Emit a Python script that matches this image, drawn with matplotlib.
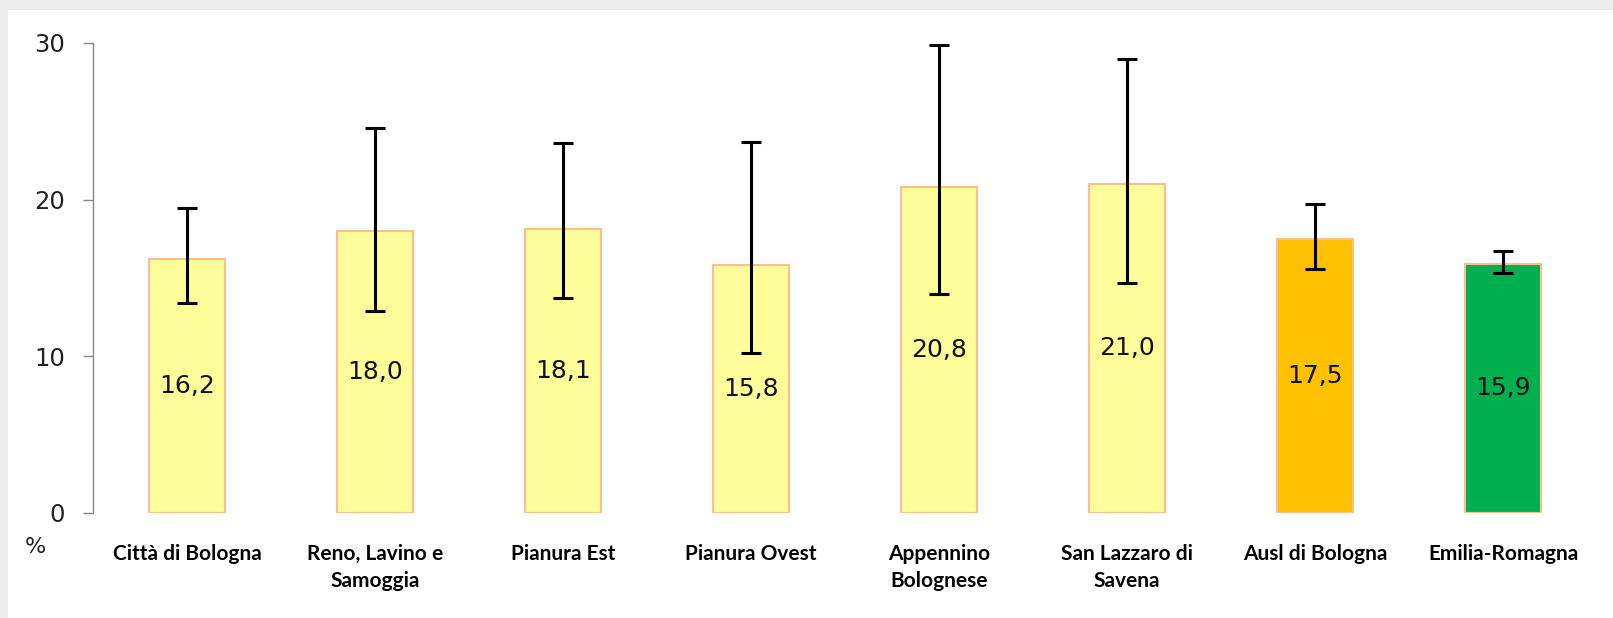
import matplotlib
matplotlib.use("Agg")
import matplotlib.pyplot as plt
from matplotlib.patches import Rectangle
import numpy as np

categories = ["Città di Bologna", "Reno, Lavino e\nSamoggia", "Pianura Est", "Pianura Ovest",
              "Appennino\nBolognese", "San Lazzaro di\nSavena", "Ausl di Bologna", "Emilia-Romagna"]
values = [16.2, 18.0, 18.1, 15.8, 20.8, 21.0, 17.5, 15.9]
ci_low = [13.4, 12.9, 13.7, 10.2, 14.0, 14.7, 15.6, 15.3]
ci_high = [19.45, 24.6, 23.6, 23.7, 29.9, 29.0, 19.7, 16.7]
bar_colors = ["#FDFD99"] * 6 + ["#FFC000", "#00B050"]
value_labels = ["16,2", "18,0", "18,1", "15,8", "20,8", "21,0", "17,5", "15,9"]
yticks = [0, 10, 20, 30]

W, H = 1613, 618
fig = plt.figure(figsize=(W / 100, H / 100), dpi=100)
fig.patch.set_facecolor("#ECECEC")
fig.add_artist(Rectangle((8 / W, 0), 1, 1 - 10 / H, transform=fig.transFigure,
                         facecolor="white", edgecolor="none", zorder=0))

ax = fig.add_axes([93 / W, 1 - 513 / H, (1597 - 93) / W, (513 - 43) / H])
ax.set_facecolor("none")
x = np.arange(len(categories))
ax.bar(x, values, width=0.4, color=bar_colors, edgecolor="#F9BF8F", linewidth=1.5, zorder=2)
yerr = np.array([np.array(values) - np.array(ci_low), np.array(ci_high) - np.array(values)])
ax.errorbar(x, values, yerr=yerr, fmt="none", ecolor="black", elinewidth=2.2,
            capsize=7.5, capthick=2.2, zorder=3)

for xi, v, lab in zip(x, values, value_labels):
    ax.text(xi, v / 2, lab, ha="center", va="center", fontsize=18, color="#111111",
            family="DejaVu Sans", zorder=4)

ax.set_xlim(-0.5, len(categories) - 0.5)
ax.set_ylim(0, 30)
ax.set_yticks(yticks)
ax.set_yticklabels([str(t) for t in yticks], fontsize=17.5, family="DejaVu Sans", color="#222222")
ax.tick_params(axis="y", direction="out", length=7, width=1, color="#888888", pad=13)
ax.set_xticks(x)
ax.set_xticklabels(categories, fontsize=15, fontweight="bold",
                   family=["Lato", "DejaVu Sans"], linespacing=1.45)
ax.tick_params(axis="x", length=0, pad=22)
for s in ["top", "right", "bottom"]:
    ax.spines[s].set_visible(False)
ax.spines["left"].set_color("#888888")
ax.spines["left"].set_linewidth(1)

fig.text(35 / W, 1 - 547 / H, "%", ha="center", va="center", fontsize=16, color="#222222")

fig.savefig("out.png", dpi=100, facecolor=fig.get_facecolor())
